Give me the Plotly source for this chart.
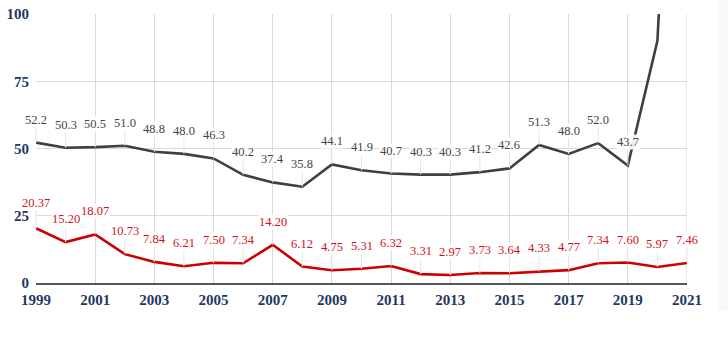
import plotly.graph_objects as go

years = list(range(1999, 2022))
gray_vals = [52.2, 50.3, 50.5, 51.0, 48.8, 48.0, 46.3, 40.2, 37.4, 35.8, 44.1, 41.9,
             40.7, 40.3, 40.3, 41.2, 42.6, 51.3, 48.0, 52.0, 43.7, 90.0, 300.0]
gray_labels = ["52.2", "50.3", "50.5", "51.0", "48.8", "48.0", "46.3", "40.2", "37.4", "35.8",
               "44.1", "41.9", "40.7", "40.3", "40.3", "41.2", "42.6", "51.3", "48.0", "52.0",
               "43.7", None, None]
red_vals = [20.37, 15.20, 18.07, 10.73, 7.84, 6.21, 7.50, 7.34, 14.20, 6.12, 4.75, 5.31,
            6.32, 3.31, 2.97, 3.73, 3.64, 4.33, 4.77, 7.34, 7.60, 5.97, 7.46]
red_labels = ["20.37", "15.20", "18.07", "10.73", "7.84", "6.21", "7.50", "7.34", "14.20",
              "6.12", "4.75", "5.31", "6.32", "3.31", "2.97", "3.73", "3.64", "4.33", "4.77",
              "7.34", "7.60", "5.97", "7.46"]
x_ticks = list(range(1999, 2022, 2))
y_ticks = [0, 25, 50, 75, 100]

GRAY = "#3f3f3f"
RED = "#cc0000"
TICK = "#1f3864"
SERIF = "Liberation Serif"

fig = go.Figure()
fig.add_trace(go.Scatter(x=years, y=gray_vals, mode="lines",
                         line=dict(color=GRAY, width=2.6), hoverinfo="skip"))
fig.add_trace(go.Scatter(x=years, y=red_vals, mode="lines",
                         line=dict(color=RED, width=2.6), hoverinfo="skip"))

annots = []
for x, y, t in zip(years, gray_vals, gray_labels):
    if t is None:
        continue
    annots.append(dict(x=x, y=y, text=t, showarrow=True, ax=0, ay=-23,
                       arrowhead=0, arrowwidth=1, arrowcolor="#e6e6e6", standoff=0,
                       font=dict(family=SERIF, size=12.5, color="#444444"),
                       bgcolor="rgba(255,255,255,0.9)", borderpad=0))
for i, (x, y, t) in enumerate(zip(years, red_vals, red_labels)):
    annots.append(dict(x=x, y=y, text=t, showarrow=True, ax=0, ay=-25 if i == 0 else -23,
                       arrowhead=0, arrowwidth=1, arrowcolor="#e6e6e6", standoff=0,
                       font=dict(family=SERIF, size=12.5, color="#d0101b"),
                       bgcolor="rgba(255,255,255,0.9)", borderpad=0))

shapes = [dict(type="rect", xref="paper", yref="paper", x0=(718 - 36) / 651, x1=(728 - 36) / 651 + 0.05,
               y0=(355 - 72 - 310) / 269, y1=(355 - 72) / 269 + 0.1,
               fillcolor="#f7f8fa", line=dict(width=0), layer="below")]

fig.update_layout(
    width=728, height=355,
    margin=dict(l=36, r=41, t=14, b=72, autoexpand=False),
    paper_bgcolor="white", plot_bgcolor="white",
    showlegend=False,
    annotations=annots,
    shapes=shapes,
    xaxis=dict(range=[1999, 2021], tickvals=x_ticks, ticktext=[str(v) for v in x_ticks],
               showgrid=True, gridcolor="#d9d9d9", gridwidth=1,
               showline=True, linecolor="#555555", linewidth=1.5,
               zeroline=False, ticks="", automargin=False,
               tickfont=dict(family=SERIF, size=15, color=TICK, weight="bold"), ticklabelstandoff=2),
    yaxis=dict(range=[0, 100], tickvals=y_ticks, ticktext=[str(v) for v in y_ticks],
               showgrid=True, gridcolor="#d9d9d9", gridwidth=1,
               showline=False, zeroline=False, ticks="", automargin=False,
               tickfont=dict(family=SERIF, size=15, color=TICK, weight="bold"), ticklabelstandoff=6),
)
fig.add_shape(type="line", xref="x", yref="paper", x0=2021, x1=2021, y0=0, y1=1,
              line=dict(color="#d9d9d9", width=1), layer="below")

fig.write_html("out.html", config={"displayModeBar": False},
               post_script="document.body.style.margin='0';document.body.style.padding='0';")
